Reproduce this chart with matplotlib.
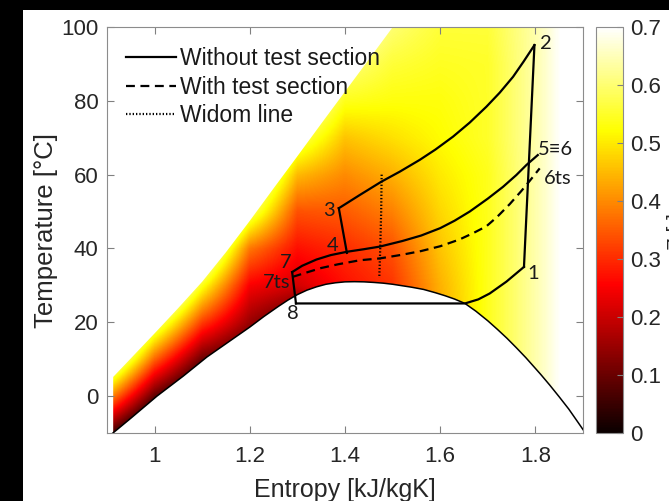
import numpy as np
import matplotlib
matplotlib.use("Agg")
import matplotlib.pyplot as plt
from matplotlib.patches import Polygon, Rectangle
from matplotlib.lines import Line2D
from matplotlib.ticker import FormatStrFormatter

plt.rcParams['font.family'] = ['Liberation Sans', 'DejaVu Sans']

# ---------------- data ----------------
# saturation dome (liquid line -> critical point -> vapour line)
dome_s = [0.905, 0.95, 1.005, 1.06, 1.11, 1.16, 1.20, 1.23, 1.26, 1.28, 1.30, 1.32,
          1.34, 1.36, 1.38, 1.40, 1.42, 1.44, 1.46, 1.48, 1.50, 1.52, 1.54, 1.565,
          1.59, 1.61, 1.63, 1.652, 1.675, 1.70, 1.72, 1.74, 1.76, 1.78, 1.80, 1.811,
          1.83, 1.85, 1.87, 1.89, 1.905]
dome_T = [-10.8, -6.0, 0.0, 5.4, 10.6, 15.1, 18.7, 21.6, 24.3, 26.0, 27.5, 28.7,
          29.6, 30.3, 30.7, 30.95, 31.0, 30.95, 30.8, 30.6, 30.3, 29.9, 29.5, 28.9,
          28.0, 27.2, 26.3, 25.1, 23.0, 20.4, 18.1, 15.7, 13.1, 10.4, 7.5, 5.9,
          3.0, -0.2, -3.5, -7.2, -10.0]

# upper-left edge of the shaded property field
edge_s = [0.913, 1.0, 1.05, 1.10, 1.15, 1.20, 1.25, 1.30, 1.35, 1.40, 1.45, 1.4975, 1.56]
edge_T = [5.2, 17.0, 23.9, 31.0, 39.0, 47.5, 56.3, 65.0, 73.8, 82.5, 91.2, 99.5, 110.0]

# property field (colour value) read at grid nodes
field_s = [0.9, 1.0, 1.1, 1.2, 1.3, 1.4, 1.5, 1.6, 1.7, 1.8, 1.9]
field_T = [-10, 0, 10, 20, 30, 40, 50, 60, 70, 80, 90, 100]
field_rows = [
    # 0.9   1.0    1.1    1.2    1.3   1.4   1.5   1.6    1.7   1.8   1.9
    [0.09, -0.17, -0.31, -0.24, -0.20, 0.20, 0.30, 0.43, 0.54, 0.64, 0.75],   # -10
    [0.43,  0.09, -0.10, -0.11, -0.10, 0.20, 0.30, 0.43, 0.54, 0.64, 0.75],   # 0
    [0.76,  0.36,  0.10,  0.02, -0.05, 0.20, 0.30, 0.43, 0.54, 0.64, 0.75],   # 10
    [1.00,  0.63,  0.32,  0.15,  0.05, 0.22, 0.30, 0.43, 0.54, 0.64, 0.75],   # 20
    [1.00,  0.90,  0.54,  0.25,  0.21, 0.27, 0.31, 0.44, 0.54, 0.64, 0.75],   # 30
    [1.00,  1.00,  0.76,  0.38,  0.27, 0.30, 0.34, 0.46, 0.54, 0.64, 0.75],   # 40
    [1.00,  1.00,  0.96,  0.60,  0.34, 0.35, 0.39, 0.48, 0.54, 0.64, 0.75],   # 50
    [1.00,  1.00,  1.00,  0.74,  0.45, 0.40, 0.44, 0.50, 0.54, 0.64, 0.75],   # 60
    [1.00,  1.00,  1.00,  0.86,  0.59, 0.46, 0.49, 0.52, 0.55, 0.64, 0.75],   # 70
    [1.00,  1.00,  1.00,  0.90,  0.70, 0.54, 0.53, 0.53, 0.55, 0.64, 0.75],   # 80
    [1.00,  1.00,  1.00,  0.90,  0.78, 0.61, 0.56, 0.545, 0.55, 0.64, 0.75],  # 90
    [1.00,  1.00,  1.00,  0.90,  0.84, 0.68, 0.60, 0.56, 0.56, 0.64, 0.75],   # 100
]

# cycle without test section
comp_s = [1.776, 1.798]                     # 1 -> 2
comp_T = [35.0, 95.1]
gc_s = [1.798, 1.775, 1.753, 1.725, 1.697, 1.662, 1.627, 1.59, 1.557, 1.515,
        1.4765, 1.43, 1.387]                                  # 2 -> 3
gc_T = [95.1, 90.6, 86.5, 82.2, 78.4, 74.1, 70.3, 66.8, 64.0, 60.8,
        58.1, 54.4, 50.9]
s34_s = [1.387, 1.404]                      # 3 -> 4
s34_T = [50.9, 38.8]
hp_s = [1.289, 1.31, 1.34, 1.37, 1.404, 1.44, 1.473, 1.52, 1.56, 1.60, 1.63,
        1.662, 1.70, 1.732, 1.76, 1.781, 1.805]            # 7 -> 4 -> 5
hp_T = [33.6, 35.3, 37.0, 38.2, 39.1, 39.8, 40.5, 42.0, 43.5, 45.5, 47.5,
        50.0, 53.5, 56.7, 59.9, 62.6, 65.3]
exp_s = [1.289, 1.297]                      # 7 -> 8
exp_T = [33.6, 25.1]
evap_s = [1.297, 1.652, 1.680, 1.704, 1.739, 1.776]        # 8 -> 1
evap_T = [25.1, 25.1, 26.2, 27.8, 31.0, 35.0]

# cycle with test section
ts_s = [1.29, 1.312, 1.35, 1.385, 1.431, 1.473, 1.52, 1.56, 1.60, 1.64, 1.67,
        1.697, 1.72, 1.746, 1.77, 1.788, 1.809]
ts_T = [32.3, 33.2, 34.7, 35.7, 36.8, 37.3, 38.3, 39.3, 40.6, 42.4, 44.2,
        46.0, 48.6, 52.0, 55.5, 58.3, 61.7]

# Widom line
widom_s = [1.477, 1.476, 1.474, 1.472]
widom_T = [60.0, 50.0, 40.0, 32.0]

# state point labels
pt_text = ['1', '2', '3', '4', '5\u22616', '6ts', '7', '7ts', '8']
pt_s = [1.784, 1.809, 1.378, 1.386, 1.806, 1.818, 1.287, 1.285, 1.291]
pt_T = [33.3, 95.4, 50.4, 40.9, 66.7, 59.0, 36.3, 30.9, 22.3]
pt_ha = ['left', 'left', 'right', 'right', 'left', 'left', 'right', 'right', 'center']

xticks = [1, 1.2, 1.4, 1.6, 1.8]
yticks = [0, 20, 40, 60, 80, 100]
cticks = [0, 0.1, 0.2, 0.3, 0.4, 0.5, 0.6, 0.7]

# ---------------- figure ----------------
W, H = 669, 501
fig = plt.figure(figsize=(W / 100, H / 100), dpi=100, facecolor='black')
fig.add_artist(Rectangle((23 / W, 0), 1, (H - 10) / H, transform=fig.transFigure,
                         facecolor='white', edgecolor='none', zorder=-10))

ax = fig.add_axes([107 / W, (H - 433) / H, 476 / W, 406 / H])
ax.set_facecolor('white')

ds = field_s[1] - field_s[0]
dT = field_T[1] - field_T[0]
im = ax.imshow(np.array(field_rows), origin='lower', cmap='hot', vmin=0, vmax=0.7,
               extent=[field_s[0] - ds / 2, field_s[-1] + ds / 2,
                       field_T[0] - dT / 2, field_T[-1] + dT / 2],
               interpolation='bilinear', aspect='auto', zorder=1)
poly = list(zip(dome_s, dome_T)) + [(1.99, -12), (1.99, 112)] + \
    list(zip(edge_s[::-1], edge_T[::-1])) + [(edge_s[0], -12), (dome_s[0], -12)]
clip = Polygon(poly, closed=True, transform=ax.transData, facecolor='none', edgecolor='none')
ax.add_patch(clip)
im.set_clip_path(clip)

lw = 1.6
ax.plot(dome_s, dome_T, color='black', lw=1.1, zorder=3)
for xs, ys in [(comp_s, comp_T), (gc_s, gc_T), (s34_s, s34_T), (hp_s, hp_T),
               (exp_s, exp_T), (evap_s, evap_T)]:
    ax.plot(xs, ys, color='black', lw=lw, zorder=4, solid_joinstyle='miter')
ax.plot(ts_s, ts_T, color='black', lw=lw, ls=(0, (4, 2.5)), zorder=4)
ax.plot(widom_s, widom_T, color='black', lw=lw, ls=(0, (0.6, 0.9)), zorder=4)

for t, x, y, ha in zip(pt_text, pt_s, pt_T, pt_ha):
    ax.text(x, y, t, ha=ha, va='center', fontsize=14.5, family=['Lato', 'DejaVu Sans'],
            color='#1a1a1a', zorder=5)

handles = [Line2D([], [], color='black', lw=lw),
           Line2D([], [], color='black', lw=lw, ls=(0, (4, 2.5))),
           Line2D([], [], color='black', lw=lw, ls=(0, (0.6, 0.9)))]
leg = ax.legend(handles, ['Without test section', 'With test section', 'Widom line'],
                loc='upper left', bbox_to_anchor=(0.011, 0.985), frameon=False,
                fontsize=16.5, handlelength=2.18, handletextpad=0.17,
                labelspacing=0.25, borderaxespad=0.2)
for txt in leg.get_texts():
    txt.set_color('#1a1a1a')

ax.set_xlim(0.9, 1.9)
ax.set_ylim(-10, 100)
ax.set_xticks(xticks)
ax.set_yticks(yticks)
ax.xaxis.set_major_formatter(FormatStrFormatter('%g'))
ax.tick_params(direction='in', length=5, width=0.8, colors='#808080',
               labelcolor='#262626', labelsize=16, top=True, right=True)
ax.tick_params(axis='x', pad=9)
ax.tick_params(axis='y', pad=6)
for sp in ax.spines.values():
    sp.set_color('#8c8c8c')
    sp.set_linewidth(0.8)
ax.set_xlabel('Entropy [kJ/kgK]', fontsize=18, color='#262626')
ax.set_ylabel('Temperature [\u00b0C]', fontsize=18.5, color='#262626')
ax.xaxis.set_label_coords(0.5, -0.112)
ax.yaxis.set_label_coords(-0.102, 0.5)

cax = fig.add_axes([596 / W, (H - 433) / H, 27 / W, 406 / H])
cb = fig.colorbar(im, cax=cax)
cb.set_ticks(cticks)
cb.ax.yaxis.set_major_formatter(FormatStrFormatter('%g'))
cax.tick_params(direction='in', length=4, width=0.8, colors='#808080',
                labelcolor='#262626', labelsize=16, pad=5)
cb.outline.set_edgecolor('#8c8c8c')
cb.outline.set_linewidth(0.8)
fig.text(667 / W, (H - 232) / H, 'Z [-]', rotation=90, ha='left', va='center',
         fontsize=15, color='#262626')

fig.savefig('out.png', dpi=100, facecolor=fig.get_facecolor())
